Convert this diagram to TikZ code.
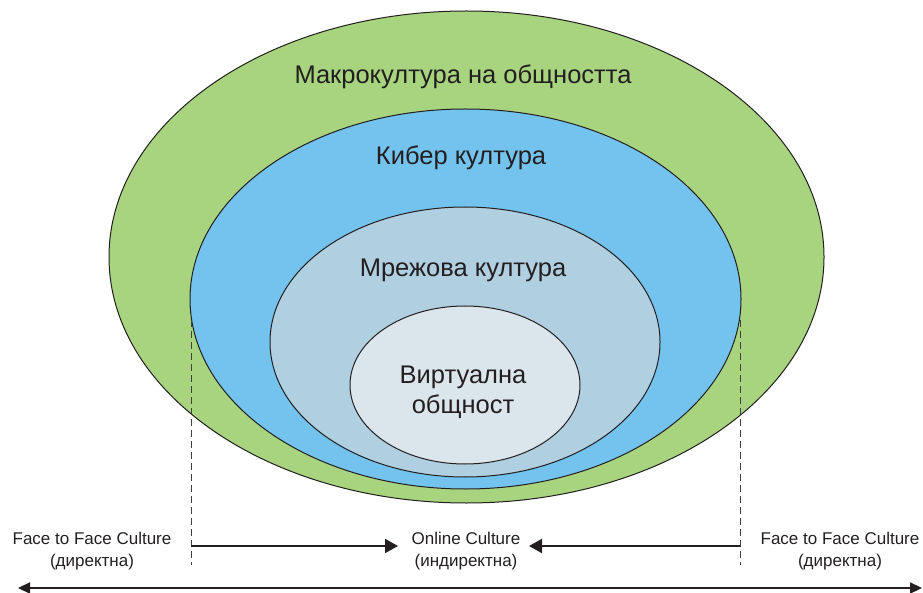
\documentclass[tikz,border=0pt]{standalone}
\usepackage{fontspec}
\setmainfont{Liberation Sans}
\usetikzlibrary{shapes.geometric,arrows.meta}
\definecolor{cgreen}{RGB}{168,212,128}
\definecolor{cblue}{RGB}{115,195,238}
\definecolor{clblue}{RGB}{176,207,224}
\definecolor{cinner}{RGB}{219,229,236}
\definecolor{ctext}{RGB}{35,31,32}
\tikzset{
  ring/.style={ellipse, draw=ctext, line width=1pt, inner sep=0pt},
  bigtext/.style={font=\fontsize{25.5}{30}\selectfont, text=ctext, align=center},
  smalltext/.style={font=\fontsize{17}{21.5}\selectfont, text=ctext, align=center},
  guide/.style={draw=black!75, line width=1pt, dash pattern=on 7pt off 4pt},
  flow/.style={draw=ctext, line width=2pt, -{Triangle[length=13pt,width=14pt]}},
  axis/.style={draw=ctext, line width=2.2pt, {Triangle[length=12pt,width=11pt]}-{Triangle[length=12pt,width=11pt]}}
}
\begin{document}
\begin{tikzpicture}[x=1pt,y=-1pt]
\useasboundingbox (0,0) rectangle (923,593);
% rings
\node[ring, fill=cgreen, minimum width=715pt, minimum height=492pt] (macro) at (466.5,257) {};
\node[ring, fill=cblue, minimum width=551pt, minimum height=380pt] (cyber) at (465.5,299) {};
\node[ring, fill=clblue, minimum width=390pt, minimum height=270pt] (net) at (465,342) {};
\node[ring, fill=cinner, minimum width=230pt, minimum height=158pt] (virt) at (465,385) {};
% ring labels
\node[bigtext] (tmacro) at (463,77) {Макрокултура на общността};
\node[bigtext] (tcyber) at (461,158) {Кибер култура};
\node[bigtext] (tnet) at (463,270) {Мрежова култура};
\node[bigtext] (tvirt) at (463,392) {Виртуална\\общност};
% guides
\coordinate (gl1) at (191,320);
\coordinate (gl2) at (191,565);
\coordinate (gr1) at (740,320);
\coordinate (gr2) at (740,565);
\draw[guide] (gl1) -- (gl2);
\draw[guide] (gr1) -- (gr2);
% bottom labels
\node[smalltext] (fl) at (92,551) {Face to Face Culture\\(директна)};
\node[smalltext] (on) at (466,551) {Online Culture\\(индиректна)};
\node[smalltext] (fr) at (840,551) {Face to Face Culture\\(директна)};
% flow arrows
\coordinate (al) at (191,546);
\coordinate (alt) at (398,546);
\coordinate (ar) at (740,546);
\coordinate (art) at (529,546);
\draw[flow] (al) -- (alt);
\draw[flow] (ar) -- (art);
% bottom axis
\coordinate (bl) at (18,588);
\coordinate (br) at (922,588);
\draw[axis] (bl) -- (br);
\end{tikzpicture}
\end{document}
